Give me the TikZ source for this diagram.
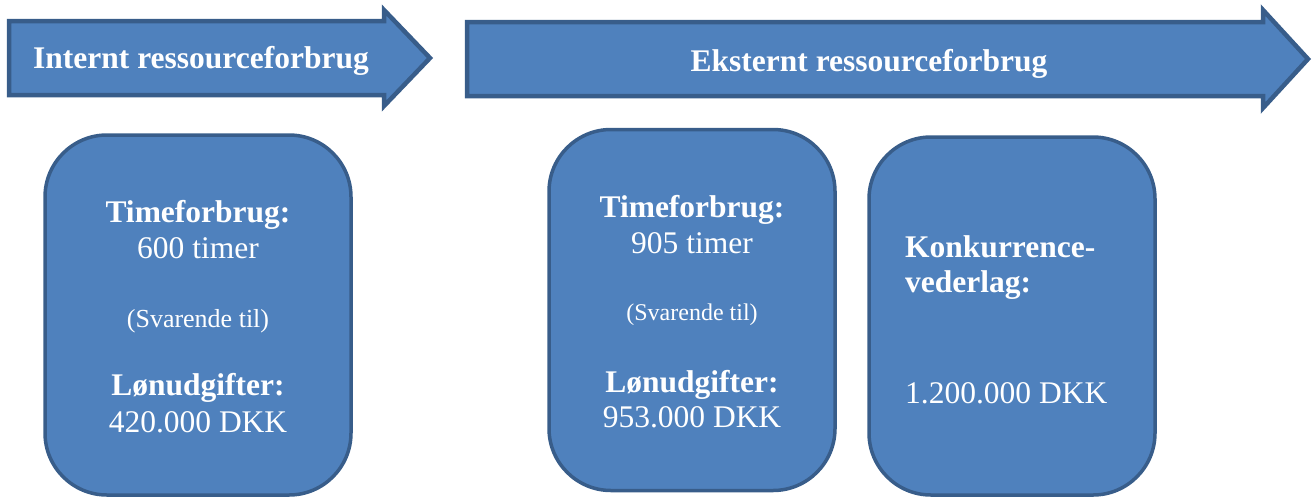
\documentclass[tikz,border=0pt]{standalone}
\usepackage{fontspec}
\setmainfont{Liberation Serif}
\definecolor{kasseblaa}{HTML}{4F81BD}
\definecolor{kantblaa}{HTML}{385D8A}
\tikzset{
  pil/.style={fill=kasseblaa, draw=kantblaa, line width=4.5pt, line join=miter},
  boks/.style={rectangle, rounded corners=62pt, fill=kasseblaa, draw=kantblaa,
    line width=3.5pt, inner sep=0pt},
  titel/.style={anchor=base, inner sep=0pt, text=white,
    font=\fontsize{31.5}{36}\selectfont\bfseries},
  tal/.style={anchor=base, inner sep=0pt, text=white,
    font=\fontsize{31.5}{36}\selectfont},
  lille/.style={anchor=base, inner sep=0pt, text=white}
}
\begin{document}
\begin{tikzpicture}[x=1pt, y=-1pt]
  \useasboundingbox (0,0) rectangle (1316,499);
  \draw[pil] (9,21) -- (384,21) -- (384,10) -- (430,58) -- (384,106) -- (384,95) -- (9,95) -- cycle;
  \draw[pil] (467,22) -- (1263,22) -- (1263,10) -- (1308,59) -- (1263,108) -- (1263,96) -- (467,96) -- cycle;
  \node[titel] (intern) at (201,68) {Internt ressourceforbrug};
  \node[titel] (ekstern) at (869,71) {Eksternt ressourceforbrug};

  \node[boks, minimum width=306pt, minimum height=360pt] (boks1) at (198,315) {};
  \node[boks, minimum width=286pt, minimum height=361pt] (boks2) at (692,310) {};
  \node[boks, minimum width=286pt, minimum height=358pt] (boks3) at (1012,316) {};

  \node[titel] (tid1) at (198,222) {Timeforbrug:};
  \node[tal] (timer1) at (198,258) {600 timer};
  \node[lille, font=\fontsize{26}{30}\selectfont] (svar1) at (198,327) {(Svarende til)};
  \node[titel] (lon1) at (198,395) {Lønudgifter:};
  \node[tal] (kr1) at (198,432) {420.000 DKK};

  \node[titel] (tid2) at (692,217) {Timeforbrug:};
  \node[tal] (timer2) at (692,253) {905 timer};
  \node[lille, font=\fontsize{24}{28}\selectfont] (svar2) at (692,320) {(Svarende til)};
  \node[titel] (lon2) at (692,392) {Lønudgifter:};
  \node[tal] (kr2) at (692,427) {953.000 DKK};

  \node[titel, anchor=base west] (konk) at (905,257) {Konkurrence-};
  \node[titel, anchor=base west] (vederlag) at (905,292) {vederlag:};
  \node[tal, anchor=base west] (kr3) at (905,403) {1.200.000 DKK};
\end{tikzpicture}
\end{document}
